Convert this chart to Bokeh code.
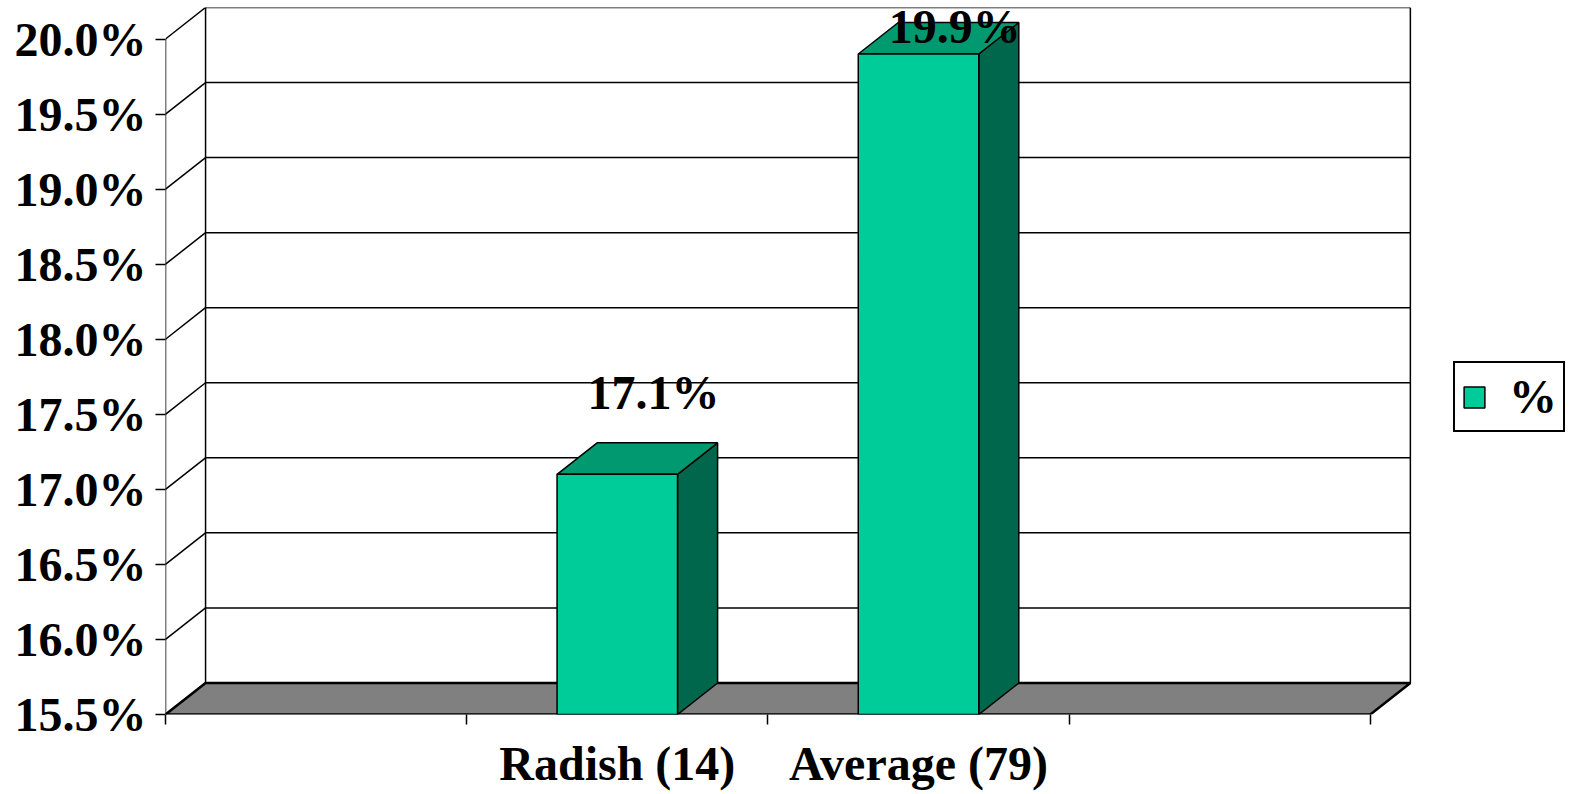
from bokeh.plotting import figure
from bokeh.models import Range1d, FixedTicker, PrintfTickFormatter, Legend, LegendItem
from bokeh.core.properties import value
from bokeh.embed import file_html
from bokeh.resources import INLINE

# ---- data ----
slots = ["", "Radish (14)", "Average (79)", ""]
categories = ["Radish (14)", "Average (79)"]
values = [17.1, 19.9]
y_ticks = [15.5, 16.0, 16.5, 17.0, 17.5, 18.0, 18.5, 19.0, 19.5, 20.0]
y_min, y_max = 15.5, 20.0

# ---- style / geometry ----
DX, DY = 0.133, 0.21
LEGEND_ROOM = 0.525
BAR_HALF = 0.2
FONT = "Liberation Serif"
FS = "48px"
FRONT = "#00CC99"
TOP = "#009970"
SIDE = "#00664C"
FLOOR = "#808080"

n = len(slots)
p = figure(width=1568, height=792, x_range=Range1d(0, n + DX + LEGEND_ROOM), y_range=Range1d(y_min, y_max + DY),
           output_backend="svg", toolbar_location=None,
           min_border_left=165, min_border_right=0, min_border_top=7, min_border_bottom=70)
p.grid.visible = False
p.outline_line_color = None
p.background_fill_color = "white"

# floor
p.patch([0, n, n + DX, DX], [y_min, y_min, y_min + DY, y_min + DY],
        fill_color=FLOOR, line_color="black", line_width=2.5)

# back wall gridlines and left-wall diagonals
gx0, gx1, gy0, gy1 = [], [], [], []
for t in y_ticks:
    if t > y_min:
        gx0.append(DX); gx1.append(n + DX); gy0.append(t + DY); gy1.append(t + DY)
    gx0.append(0); gx1.append(DX); gy0.append(t); gy1.append(t + DY)
p.segment(gx0, gy0, gx1, gy1, line_color="black", line_width=1.5)
# wall edges and front axis line
p.segment([DX, n + DX, 0], [y_min + DY, y_min + DY, y_min], [DX, n + DX, 0], [y_max + DY, y_max + DY, y_max],
          line_color="black", line_width=1.5)

# bars (3D boxes)
xc = [slots.index(c) + 0.5 for c in categories]
x0 = [c - BAR_HALF for c in xc]
x1 = [c + BAR_HALF for c in xc]
side_xs = [[b, b + DX, b + DX, b] for b in x1]
side_ys = [[y_min, y_min + DY, v + DY, v] for v in values]
top_xs = [[a, b, b + DX, a + DX] for a, b in zip(x0, x1)]
top_ys = [[v, v, v + DY, v + DY] for v in values]
p.patches(side_xs, side_ys, fill_color=SIDE, line_color="black", line_width=1.5)
p.patches(top_xs, top_ys, fill_color=TOP, line_color="black", line_width=1.5)
front = p.quad(left=x0, right=x1, bottom=[y_min] * len(values), top=values,
               fill_color=FRONT, line_color="black", line_width=1.5)

# value labels
lab_y = [min(v + 0.46, y_max) for v in values]
p.text(x=[c + 0.12 for c in xc], y=lab_y, text=[f"{v:.1f}%" for v in values],
       y_offset=-13,
       text_font=value(FONT), text_font_style="bold", text_font_size=FS,
       text_align="center", text_baseline="alphabetic", text_color="black")

# y axis
ya = p.yaxis[0]
ya.ticker = FixedTicker(ticks=y_ticks)
ya.formatter = PrintfTickFormatter(format="%.1f%%")
ya.axis_line_color = None
ya.major_tick_out = 10
ya.major_tick_in = 0
ya.minor_tick_line_color = None
ya.major_tick_line_width = 1.5
ya.major_label_standoff = 9
ya.major_label_text_font = FONT
ya.major_label_text_font_style = "bold"
ya.major_label_text_font_size = FS
ya.major_label_text_color = "black"

# x axis
xa = p.xaxis[0]
label_pos = [i + 0.5 for i, s in enumerate(slots) if s]
xa.ticker = FixedTicker(ticks=label_pos, minor_ticks=list(range(n + 1)))
xa.major_label_overrides = {pos: s for pos, s in zip(label_pos, [s for s in slots if s])}
xa.axis_line_color = None
xa.major_tick_out = 0
xa.major_tick_in = 0
xa.minor_tick_out = 10
xa.minor_tick_in = 0
xa.minor_tick_line_color = "black"
xa.minor_tick_line_width = 1.5
xa.major_label_standoff = 12
xa.major_label_text_font = FONT
xa.major_label_text_font_style = "bold"
xa.major_label_text_font_size = FS
xa.major_label_text_color = "black"

# legend
legend = Legend(items=[LegendItem(label="%", renderers=[front])], location=(1288, 282),
                margin=0, padding=6, glyph_width=26, glyph_height=26, label_standoff=22,
                border_line_color="black", border_line_width=2, border_line_alpha=1.0,
                background_fill_color="white", background_fill_alpha=1.0,
                label_text_font=FONT, label_text_font_style="bold", label_text_font_size=FS,
                label_text_color="black")
p.add_layout(legend, "center")

open("out.html", "w").write(file_html(p, INLINE))
